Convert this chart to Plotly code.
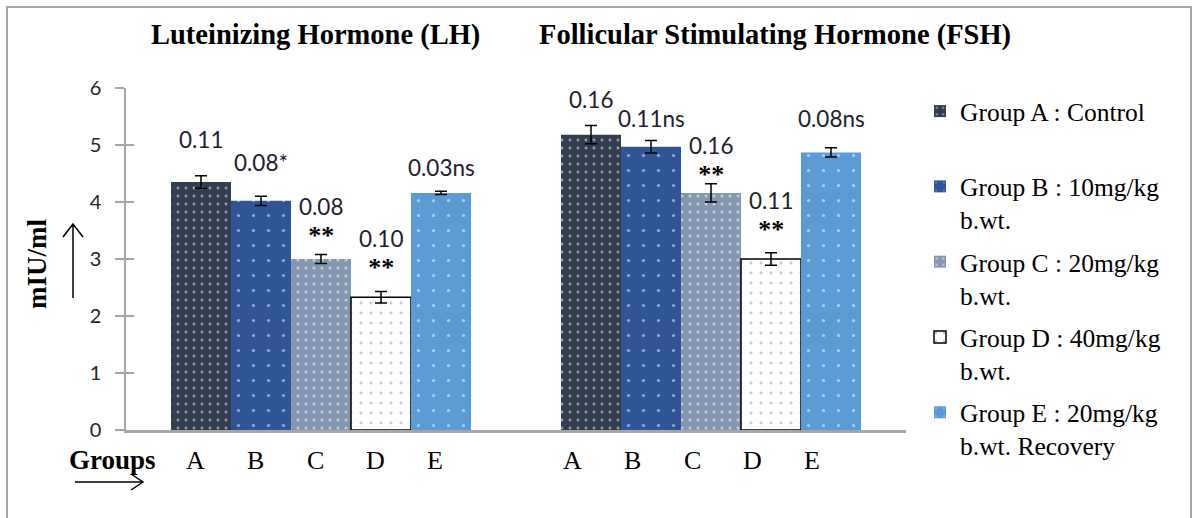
import plotly.graph_objects as go

# ---- data -------------------------------------------------------------
hormones = ["LH", "FSH"]
hormone_titles = ["Luteinizing Hormone (LH)", "Follicular Stimulating Hormone (FSH)"]
group_letters = ["A", "B", "C", "D", "E"]
legend_names = [
    "Group A : Control<br>\u00a0",
    "Group B : 10mg/kg<br>b.wt.",
    "Group C : 20mg/kg<br>b.wt.",
    "Group D : 40mg/kg<br>b.wt.",
    "Group E : 20mg/kg<br>b.wt. Recovery",
]

# mean serum level (mIU/ml): [LH, FSH]
group_a = [4.35, 5.18]
group_b = [4.02, 4.97]
group_c = [3.00, 4.16]
group_d = [2.33, 3.00]
group_e = [4.16, 4.87]

# standard error of the mean: [LH, FSH]
se_a = [0.11, 0.16]
se_b = [0.08, 0.11]
se_c = [0.08, 0.16]
se_d = [0.10, 0.11]
se_e = [0.03, 0.08]

# significance versus control: [LH, FSH]
sig_a = ["", ""]
sig_b = ["*", "ns"]
sig_c = ["**", "**"]
sig_d = ["**", "**"]
sig_e = ["ns", "ns"]

y_ticks = [0, 1, 2, 3, 4, 5, 6]

means = [group_a, group_b, group_c, group_d, group_e]
errors = [se_a, se_b, se_c, se_d, se_e]
sigs = [sig_a, sig_b, sig_c, sig_d, sig_e]

# ---- styling ----------------------------------------------------------
bar_colors = ["#323e50", "#2f5597", "#8497b0", "#ffffff", "#5b9bd5"]
dot_colors = ["#ffffff", "#ffffff", "#ffffff", "#8496b4", "#ffffff"]
dot_sizes = [8, 15, 8, 10, 15]
dot_solidity = [0.10, 0.035, 0.12, 0.07, 0.035]
outline_w = [0, 0, 0, 1.5, 0]

SERIF = "Liberation Serif"
SANS = "Lato"
BARGAP = 1.5 / 6.5

# pixel lift of the value label centre above the error bar top;
# for "**" entries the lift is that of the two-line block (value over stars)
value_lift = {"LH": [36, 34, 33, 38, 24], "FSH": [26, 22, 23, 37, 29]}
letter_shift = {"LH": -6, "FSH": -19}

W, H = 1198, 518
L, R, T, B = 126, 292, 88, 88
PW, PH = W - L - R, H - T - B


def px(xp):
    return (xp - L) / PW


def py(yp):
    return (H - B - yp) / PH


fig = go.Figure()
xpos = list(range(len(hormones)))

for i, g in enumerate(group_letters):
    fig.add_trace(go.Bar(
        x=xpos, y=means[i], name=legend_names[i], legendgroup=g,
        marker=dict(
            color=bar_colors[i],
            line=dict(color="#000000", width=outline_w[i]),
            pattern=dict(shape=".", fgcolor=dot_colors[i], bgcolor=bar_colors[i],
                         size=dot_sizes[i], solidity=dot_solidity[i]),
        ),
        error_y=dict(type="data", array=errors[i], visible=True,
                     color="#000000", thickness=1.5, width=6),
        hoverinfo="skip",
    ))

# empty trace so the overlaid tick axis is laid out
fig.add_trace(go.Scatter(x=[], y=[], yaxis="y2", showlegend=False, hoverinfo="skip"))

bar_w = (1 - BARGAP) / len(group_letters)
annotations = []
for h, hname in enumerate(hormones):
    for i, g in enumerate(group_letters):
        xc = h + (i - 2) * bar_w
        top = means[i][h] + errors[i][h]
        s = sigs[i][h]
        txt = f"{errors[i][h]:.2f}"
        if s == "**":
            txt += (f"<br><span style='font-family:{SERIF}; font-size:26px; "
                    f"color:#000000'><b>**</b></span>")
        elif s:
            txt += s
        annotations.append(dict(
            x=xc, y=top, xref="x", yref="y", text=txt, showarrow=False,
            xanchor="center", yanchor="middle", yshift=value_lift[hname][i],
            font=dict(family=SANS, size=22.5, color="#1e2030"),
        ))
        # bar letter under the axis
        annotations.append(dict(
            x=xc, y=py(460), xref="x", yref="paper", text=g, showarrow=False,
            xshift=letter_shift[hname], xanchor="center", yanchor="middle",
            font=dict(family=SERIF, size=26, color="#000000"),
        ))

# panel titles
for xc, t in zip([315, 775], hormone_titles):
    annotations.append(dict(
        x=px(xc), y=py(35), xref="paper", yref="paper", text=f"<b>{t}</b>",
        showarrow=False, xanchor="center", yanchor="middle",
        font=dict(family=SERIF, size=28.5, color="#000000"),
    ))

# axis captions
annotations.append(dict(
    x=px(37), y=py(264), xref="paper", yref="paper", text="<b>mIU/ml</b>",
    textangle=-90, showarrow=False, xanchor="center", yanchor="middle",
    font=dict(family=SERIF, size=27, color="#000000"),
))
annotations.append(dict(
    x=px(112), y=py(460), xref="paper", yref="paper", text="<b>Groups</b>",
    showarrow=False, xanchor="center", yanchor="middle",
    font=dict(family=SERIF, size=27, color="#000000"),
))

shapes = [
    # outer frame
    dict(type="rect", xref="paper", yref="paper", x0=px(7), x1=px(1191),
         y0=py(540), y1=py(7), line=dict(color="#a6a6a6", width=2), layer="below"),
    # upward arrow beside the y caption
    dict(type="path", xref="paper", yref="paper",
         path=f"M{px(73)},{py(298)} L{px(73)},{py(224)} "
              f"M{px(63)},{py(237)} L{px(73)},{py(224)} L{px(83)},{py(237)}",
         line=dict(color="#000000", width=1.5)),
    # rightward arrow under "Groups"
    dict(type="path", xref="paper", yref="paper",
         path=f"M{px(75)},{py(482)} L{px(143)},{py(482)} "
              f"M{px(131)},{py(474)} L{px(143)},{py(482)} L{px(131)},{py(490)}",
         line=dict(color="#000000", width=1.5)),
]

fig.update_layout(
    width=W, height=H,
    margin=dict(l=L, r=R, t=T, b=B),
    paper_bgcolor="#ffffff", plot_bgcolor="#ffffff",
    barmode="group", bargap=BARGAP, bargroupgap=0,
    showlegend=True,
    legend=dict(
        x=px(920), y=py(88), xanchor="left", yanchor="top",
        font=dict(family=SERIF, size=25.5, color="#000000"),
        tracegroupgap=6, valign="top", bgcolor="rgba(0,0,0,0)",
        maxheight=480,
    ),
    xaxis=dict(range=[-0.5, 1.5], showticklabels=False, ticks="", showgrid=False,
               zeroline=False, showline=True, linecolor="#a6a6a6", linewidth=2.5,
               fixedrange=True),
    yaxis=dict(range=[0, 6], tickvals=y_ticks, ticks="outside", ticklen=9,
               tickwidth=1.5, tickcolor="#a6a6a6", showgrid=False, zeroline=False,
               showline=True, linecolor="#a6a6a6", linewidth=1.5,
               ticklabelstandoff=10,
               tickfont=dict(family=SANS, size=20, color="#262626")),
    yaxis2=dict(range=[0, 6], tickvals=y_ticks, overlaying="y", anchor="x", side="left",
                ticks="inside", ticklen=8, tickwidth=1.5, tickcolor="#a6a6a6",
                showticklabels=False, showgrid=False, zeroline=False, showline=False),
    annotations=annotations,
    shapes=shapes,
)

fig.write_html("out.html")
